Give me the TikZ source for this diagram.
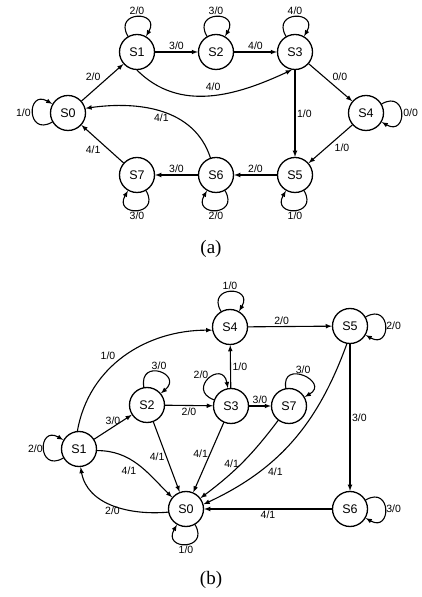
\documentclass[tikz,border=0pt]{standalone}
\usepackage{fontspec}
\setmainfont{Liberation Serif}
\setsansfont{Liberation Sans}
\begin{document}
\begin{tikzpicture}[x=1pt,y=1pt,line cap=round,line join=round,>=latex,
  st/.style={draw,circle,line width=1.3pt,minimum size=35pt,inner sep=0pt,
    font=\sffamily\fontsize{12.5}{14}\selectfont},
  tr/.style={->,line width=1.1pt},
  lp/.style={->,line width=1.1pt,loop,distance=30pt},
  lb/.style={font=\sffamily\fontsize{10.5}{12}\selectfont,inner sep=1.5pt}]
  \useasboundingbox (0,0) rectangle (422,597);
  % (a)
  \node[st] (a0) at (68,484) {S0};
  \node[st] (a1) at (137,545) {S1};
  \node[st] (a2) at (216,545) {S2};
  \node[st] (a3) at (295,545) {S3};
  \node[st] (a4) at (366,484) {S4};
  \node[st] (a5) at (295,422) {S5};
  \node[st] (a6) at (216,422) {S6};
  \node[st] (a7) at (137,422) {S7};
  \draw[lp] (a0) to[out=210,in=150] node[lb,left] {1/0} (a0);
  \draw[lp] (a1) to[out=120,in=60] node[lb,above] {2/0} (a1);
  \draw[lp] (a2) to[out=120,in=60] node[lb,above] {3/0} (a2);
  \draw[lp] (a3) to[out=120,in=60] node[lb,above] {4/0} (a3);
  \draw[lp] (a4) to[out=30,in=-30] node[lb,right] {0/0} (a4);
  \draw[lp] (a5) to[out=-60,in=-120] node[lb,below] {1/0} (a5);
  \draw[lp] (a6) to[out=-60,in=-120] node[lb,below] {2/0} (a6);
  \draw[lp] (a7) to[out=-60,in=-120] node[lb,below] {3/0} (a7);
  \draw[tr] (a0) -- node[lb,above left=0pt] {2/0} (a1);
  \draw[tr] (a1) -- node[lb,above] {3/0} (a2);
  \draw[tr] (a2) -- node[lb,above] {4/0} (a3);
  \draw[tr] (a1.south) to[out=-45,in=-155] node[lb,above=3pt,pos=0.52] {4/0} (a3.-100);
  \draw[tr] (a3) -- node[lb,above right=0pt] {0/0} (a4);
  \draw[tr] (a3) -- node[lb,right] {1/0} (a5);
  \draw[tr] (a4) -- node[lb,below right=0pt,pos=0.45] {1/0} (a5);
  \draw[tr] (a5) -- node[lb,above] {2/0} (a6);
  \draw[tr] (a6) -- node[lb,above] {3/0} (a7);
  \draw[tr] (a7) -- node[lb,below left=0pt] {4/1} (a0);
  \draw[tr] (a6.108) to[out=108,in=8] node[lb,below] {4/1} (a0.15);
  \node (capa) at (211,348) {\fontsize{19}{22}\selectfont(a)};
  % (b)
  \node[st] (b0) at (186,88) {S0};
  \node[st] (b1) at (79,148) {S1};
  \node[st] (b2) at (147,192) {S2};
  \node[st] (b3) at (231,191) {S3};
  \node[st] (b4) at (230,270) {S4};
  \node[st] (b5) at (350,271) {S5};
  \node[st] (b6) at (350,88) {S6};
  \node[st] (b7) at (289,191) {S7};
  \draw[lp] (b0) to[out=-60,in=-120] node[lb,below] {1/0} (b0);
  \draw[lp] (b1) to[out=210,in=150] node[lb,left=-1pt] {2/0} (b1);
  \draw[lp] (b2) to[out=100,in=40] node[lb,above] {3/0} (b2);
  \draw[lp] (b3) to[out=160,in=100] node[lb,above left=-2pt] {2/0} (b3);
  \draw[lp] (b4) to[out=120,in=60] node[lb,above] {1/0} (b4);
  \draw[lp] (b5) to[out=30,in=-30] node[lb,right=-1pt] {2/0} (b5);
  \draw[lp] (b6) to[out=30,in=-30] node[lb,right=-1pt] {3/0} (b6);
  \draw[lp] (b7) to[out=100,in=30] node[lb,above] {3/0} (b7);
  \draw[tr] (b1.95) to[out=80,in=180] node[lb,above left=0pt,pos=0.45] {1/0} (b4.190);
  \draw[tr] (b1) -- node[lb,above] {3/0} (b2);
  \draw[tr] (b2) -- node[lb,below] {2/0} (b3);
  \draw[tr] (b3) -- node[lb,right] {1/0} (b4);
  \draw[tr] (b3) -- node[lb,above] {3/0} (b7);
  \draw[tr] (b4) -- node[lb,above,pos=0.4] {2/0} (b5);
  \draw[tr] (b5) -- node[lb,right] {3/0} (b6);
  \draw[tr] (b6) -- node[lb,below] {4/1} (b0);
  \draw[tr] (b2) -- node[lb,left] {4/1} (b0);
  \draw[tr] (b3) -- node[lb,left,pos=0.45] {4/1} (b0);
  \draw[tr] (b7) to[bend left=8] node[lb,left,pos=0.52] {4/1} (b0);
  \draw[tr] (b5.-100) to[out=-110,in=25] node[lb,below right=0pt,pos=0.68] {4/1} (b0.15);
  \draw[tr] (b1.-5) to[out=0,in=135] node[lb,below left=0pt] {4/1} (b0.140);
  \draw[tr] (b0.190) to[out=185,in=-80] node[lb,below] {2/0} (b1.-85);
  \node (capb) at (211,17) {\fontsize{19}{22}\selectfont(b)};
\end{tikzpicture}
\end{document}
